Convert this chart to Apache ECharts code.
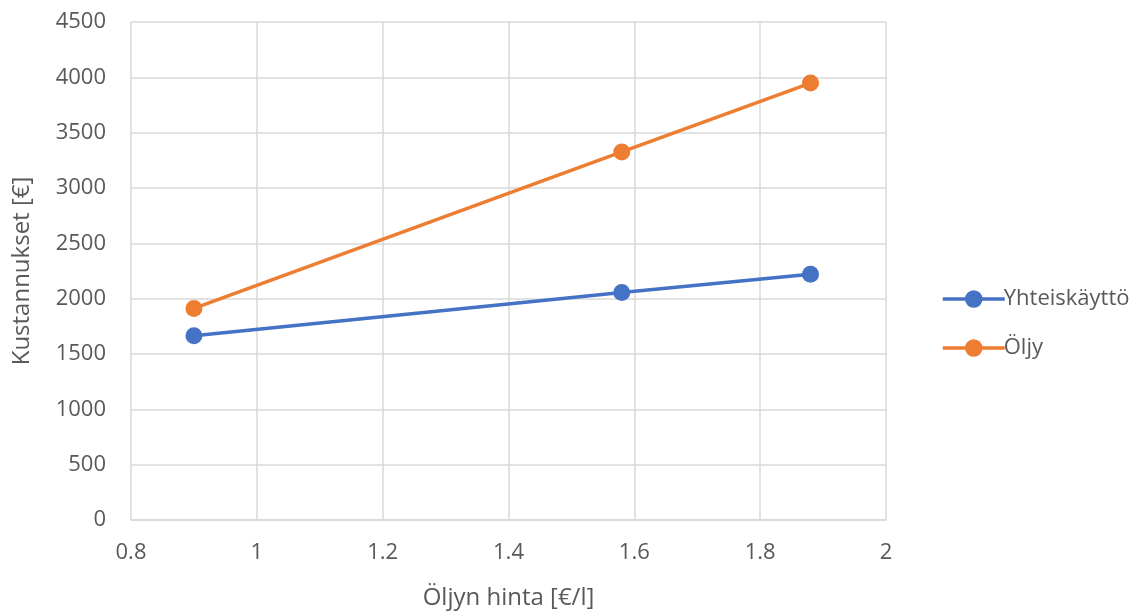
<!DOCTYPE html>
<html><head><meta charset="utf-8">
<script src="https://cdn.jsdelivr.net/npm/echarts@6/dist/echarts.min.js"></script>
<style>html,body{margin:0;padding:0;background:#fff}#c{width:1144px;height:615px}</style>
</head><body><div id="c"></div>
<script>
const oilPrices = [0.9, 1.58, 1.88];
const yhteiskaytto = [1665, 2056, 2220];
const oljy = [1912, 3326, 3948];
const seriesNames = ['Yhteiskäyttö', 'Öljy'];
const xTitle = 'Öljyn hinta [€/l]';
const yTitle = 'Kustannukset [€]';

const font = 'Open Sans, Liberation Sans, sans-serif';
const txt = '#595959';
const chart = echarts.init(document.getElementById('c'));
chart.setOption({
  animation: false,
  grid: {left: 131, right: 258, top: 22, bottom: 94},
  legend: {
    orient: 'vertical', left: 936, top: 283, itemGap: 27,
    itemWidth: 62, itemHeight: 22,
    lineStyle: {width: 3.5},
    textStyle: {fontFamily: font, fontSize: 22, color: txt, padding: [0,0,0,-6]},
    data: seriesNames
  },
  xAxis: {
    type: 'value', min: 0.8, max: 2, interval: 0.2,
    name: xTitle, nameLocation: 'middle', nameGap: 66,
    nameTextStyle: {fontFamily: font, fontSize: 24, color: txt},
    axisLine: {show: true, lineStyle: {color: '#d9d9d9', width: 1.5}},
    axisTick: {show: false},
    axisLabel: {fontFamily: font, fontSize: 22, color: txt, margin: 22,
      formatter: v => String(Math.round(v*10)/10)},
    splitLine: {show: true, lineStyle: {color: '#d9d9d9', width: 1.5}}
  },
  yAxis: {
    type: 'value', min: 0, max: 4500, interval: 500,
    name: yTitle, nameLocation: 'middle', nameGap: 97,
    nameTextStyle: {fontFamily: font, fontSize: 24, color: txt},
    axisLine: {show: false},
    axisTick: {show: false},
    axisLabel: {fontFamily: font, fontSize: 22, color: txt, margin: 25,
      formatter: v => String(v)},
    splitLine: {show: true, lineStyle: {color: '#d9d9d9', width: 1.5}}
  },
  series: [
    {name: seriesNames[0], type: 'line', data: oilPrices.map((x,i)=>[x, yhteiskaytto[i]]),
     symbol: 'circle', symbolSize: 17, lineStyle: {width: 3.5, color: '#4472c4'},
     itemStyle: {color: '#4472c4'}},
    {name: seriesNames[1], type: 'line', data: oilPrices.map((x,i)=>[x, oljy[i]]),
     symbol: 'circle', symbolSize: 17, lineStyle: {width: 3.5, color: '#ed7d31'},
     itemStyle: {color: '#ed7d31'}}
  ]
});
</script></body></html>
